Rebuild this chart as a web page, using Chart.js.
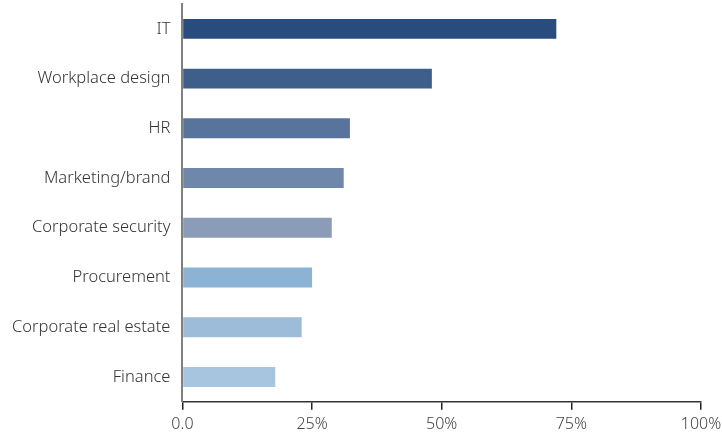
<!DOCTYPE html>
<html>
<head>
<meta charset="utf-8">
<script src="https://cdn.jsdelivr.net/npm/chart.js@4/dist/chart.umd.min.js"></script>
<style>
  html, body { margin: 0; padding: 0; background: #fff; }
  #wrap { width: 722px; height: 439px; }
</style>
</head>
<body>
<div id="wrap"><canvas id="areas"></canvas></div>
<script>
// Share of respondents by area
var categories = ['IT', 'Workplace design', 'HR', 'Marketing/brand', 'Corporate security', 'Procurement', 'Corporate real estate', 'Finance'];
var shares = [72.1, 48.1, 32.3, 31.1, 28.8, 25.0, 23.0, 17.9];
var barColors = ['#284c7d', '#3f5f8b', '#58749c', '#6f87a8', '#8a9cb7', '#8db3d4', '#9dbcda', '#a8c5df'];
var tickValues = [0, 25, 50, 75, 100];
var tickLabels = ['0.0', '25%', '50%', '75%', '100%'];

var ctx = document.getElementById('areas').getContext('2d');
var chart = new Chart(ctx, {
    type: 'bar',
    data: {
        labels: categories,
        datasets: [{
            data: shares,
            backgroundColor: barColors,
            barPercentage: 0.4,
            categoryPercentage: 1.0
        }]
    },
    options: {
        indexAxis: 'y',
        responsive: true,
        maintainAspectRatio: false,
        animation: false,
        layout: { padding: { top: 4, right: 0, left: 0, bottom: 0 } },
        plugins: {
            legend: { display: false },
            tooltip: { enabled: false }
        },
        scales: {
            x: {
                min: 0,
                max: 100,
                afterBuildTicks: function (axis) {
                    axis.ticks = tickValues.map(function (v) { return { value: v }; });
                },
                // keep the right edge of the plot fixed
                afterFit: function (axis) {
                    axis.paddingLeft = 0;
                    axis.paddingRight = 21;
                },
                ticks: {
                    color: '#444',
                    padding: 5,
                    maxRotation: 0,
                    font: { family: 'Noto Sans', size: 16, weight: 300 },
                    callback: function (value) {
                        return tickLabels[tickValues.indexOf(value)];
                    }
                },
                grid: { drawOnChartArea: false, tickLength: 8, color: '#222', lineWidth: 1.5 },
                border: { display: true, color: '#333', width: 1.5 }
            },
            y: {
                afterFit: function (axis) {
                    axis.paddingTop = 0;
                    axis.paddingBottom = 0;
                },
                ticks: {
                    color: '#333',
                    padding: 12,
                    font: { family: 'Noto Sans', size: 16.5, weight: 300 }
                },
                grid: { display: false, drawTicks: false },
                border: { display: true, color: '#808080', width: 2 }
            }
        }
    }
});
</script>
</body>
</html>
